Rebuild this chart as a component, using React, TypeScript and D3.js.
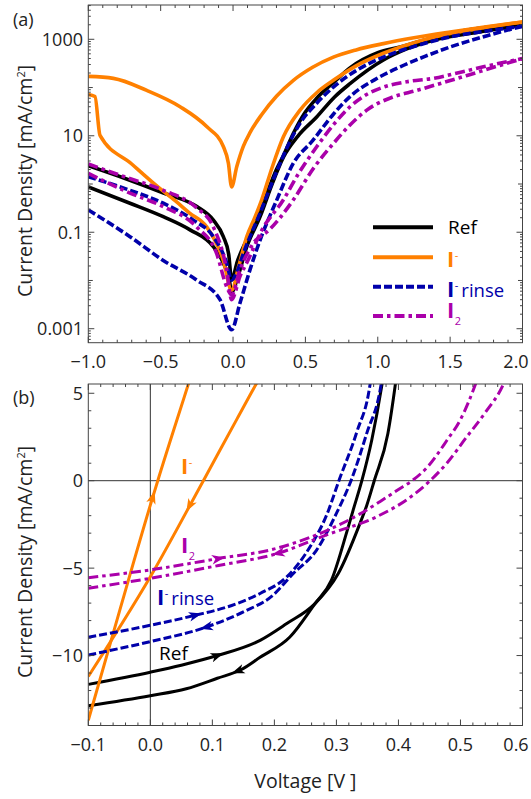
import React from "react";
import * as d3 from "d3";

// ---------- Panel (a): |J| vs V, log scale (mA/cm^2) ----------
const refA_V = [-1.0, -0.75, -0.48, -0.25, -0.136, -0.067, -0.03, -0.01, 0.03, 0.095, 0.187, 0.233, 0.3, 0.35, 0.417, 0.5, 0.578, 0.7, 0.808, 1.0, 1.155, 1.4, 1.617, 2.0];
const refA_J = [2.4, 1.32, 0.65, 0.34, 0.178, 0.081, 0.035, 0.0102, 0.025, 0.071, 0.28, 0.63, 2.0, 4.0, 11.2, 31, 60, 132, 255, 525, 692, 1122, 1549, 1995];
const refB_V = [-1.0, -0.712, -0.482, -0.297, -0.136, -0.067, -0.025, -0.01, 0.026, 0.095, 0.187, 0.27, 0.348, 0.45, 0.578, 0.7, 0.808, 1.039, 1.2, 1.384, 1.7, 2.0];
const refB_J = [0.87, 0.4, 0.21, 0.112, 0.05, 0.023, 0.01, 0.0055, 0.0102, 0.05, 0.21, 1.0, 3.6, 10, 24.5, 63, 120, 372, 631, 955, 1413, 1995];

const iA_V = [-1.0, -0.827, -0.596, -0.366, -0.182, -0.067, -0.032, -0.01, 0.026, 0.071, 0.12, 0.2, 0.3, 0.417, 0.55, 0.693, 0.85, 1.039, 1.25, 1.5, 1.75, 2.0];
const iA_J = [170, 155, 87, 40, 15.5, 6.0, 2.7, 0.87, 2.3, 6.0, 12, 28, 66, 141, 263, 427, 603, 813, 1072, 1413, 1820, 2291];
const iB_V = [-1.0, -0.954, -0.919, -0.7, -0.527, -0.4, -0.3, -0.182, -0.067, -0.01, 0.04, 0.095, 0.15, 0.198, 0.27, 0.348, 0.463, 0.58, 0.693, 0.85, 1.039, 1.25, 1.5, 1.75, 2.0];
const iB_J = [72, 65, 10.2, 2.6, 0.91, 0.45, 0.25, 0.129, 0.026, 0.0063, 0.02, 0.081, 0.2, 0.47, 2.2, 9.5, 34, 79, 141, 282, 513, 851, 1318, 1778, 2291];

const rinseA_V = [-1.0, -0.712, -0.482, -0.274, -0.136, -0.044, -0.01, 0.03, 0.071, 0.187, 0.3, 0.38, 0.463, 0.58, 0.693, 0.85, 1.039, 1.25, 1.5, 1.75, 2.0];
const rinseA_J = [1.41, 0.74, 0.4, 0.178, 0.081, 0.023, 0.0102, 0.0158, 0.036, 0.25, 1.78, 6.3, 18.2, 48, 102, 224, 427, 708, 1122, 1479, 1862];
const rinseB_V = [-1.0, -0.712, -0.482, -0.251, -0.09, -0.01, 0.048, 0.117, 0.187, 0.3, 0.417, 0.55, 0.693, 0.808, 1.0, 1.155, 1.33, 1.5, 1.75, 2.0];
const rinseB_J = [0.29, 0.081, 0.026, 0.0102, 0.004, 0.00095, 0.0034, 0.0166, 0.069, 0.45, 2.7, 7.9, 28, 65, 158, 269, 447, 692, 1175, 1862];

const i2A_V = [-1.0, -0.75, -0.482, -0.251, -0.136, -0.044, -0.01, 0.05, 0.1, 0.2, 0.348, 0.45, 0.578, 0.7, 0.808, 0.92, 1.039, 1.2, 1.384, 1.55, 1.73, 2.0];
const i2A_J = [2.6, 1.41, 0.74, 0.32, 0.129, 0.0166, 0.004, 0.0126, 0.025, 0.112, 0.47, 1.6, 5.9, 17.8, 40, 71, 102, 132, 155, 200, 269, 398];
const i2B_V = [-1.0, -0.712, -0.482, -0.251, -0.113, -0.044, -0.01, 0.048, 0.14, 0.25, 0.417, 0.55, 0.693, 0.8, 0.924, 1.1, 1.27, 1.45, 1.617, 1.8, 2.0];
const i2B_J = [1.66, 0.65, 0.34, 0.129, 0.036, 0.0074, 0.005, 0.0166, 0.059, 0.112, 0.47, 2.0, 6.9, 15.8, 34, 63, 87, 126, 178, 263, 398];

// ---------- Panel (b): J vs V, linear (mA/cm^2) ----------
const bRefF_V = [-0.1, 0, 0.05, 0.108, 0.177, 0.22, 0.2655, 0.303, 0.338, 0.349, 0.361, 0.383, 0.395, 0.398];
const bRefF_J = [-11.65, -10.95, -10.55, -10.0, -9.13, -8.17, -7.03, -5.31, -2.44, -1.4, 0, 2.7, 5.5, 6.3];
const bRefR_V = [-0.1, 0, 0.058, 0.108, 0.147, 0.177, 0.225, 0.2655, 0.292, 0.317, 0.327, 0.341, 0.357, 0.373, 0.377];
const bRefR_J = [-12.87, -12.3, -11.9, -11.3, -10.8, -10.1, -8.94, -7.03, -5.69, -2.9, -1.68, 0, 2.33, 5.4, 6.3];

const bIF_V = [-0.1, -0.05, 0.0, 0.012, 0.062, 0.07];
const bIF_J = [-13.7, -7.5, -1.4, 0, 5.6, 6.5];
const bIR_V = [-0.1, 0, 0.0855, 0.14, 0.1715, 0.18];
const bIR_J = [-11.2, -5.5, 0, 3.55, 5.58, 6.1];

const bRinseF_V = [-0.1, 0, 0.072, 0.13, 0.177, 0.22, 0.2575, 0.285, 0.304, 0.333, 0.354, 0.357];
const bRinseF_J = [-8.95, -8.27, -7.7, -7.15, -6.45, -5.5, -3.78, -1.9, 0, 2.8, 5.45, 6.2];
const bRinseR_V = [-0.1, 0, 0.088, 0.15, 0.196, 0.2305, 0.268, 0.3, 0.3235, 0.349, 0.372, 0.375];
const bRinseR_J = [-9.97, -9.2, -8.4, -7.5, -6.6, -5.31, -3.97, -1.87, 0, 2.72, 5.5, 6.2];

const bI2F_V = [-0.1, 0, 0.11, 0.2, 0.257, 0.3, 0.338, 0.37, 0.4, 0.422, 0.446, 0.478, 0.5, 0.524, 0.53];
const bI2F_J = [-5.55, -5.1, -4.45, -3.9, -3.25, -2.6, -1.9, -1.2, -0.5, 0, 0.75, 2.3, 3.5, 5.5, 6.1];
const bI2R_V = [-0.1, 0, 0.11, 0.206, 0.284, 0.365, 0.419, 0.451, 0.478, 0.51, 0.54, 0.569, 0.575];
const bI2R_J = [-6.15, -5.58, -4.85, -4.15, -3.1, -2.06, -0.95, 0, 1.0, 2.5, 3.9, 5.5, 6.0];

// Sweep-direction arrows: [series key, voltage of arrow tip, direction]
const arrowSpecs: [string, number, number][] = [
  ["bIF", 0.007, 1],
  ["bIR", 0.058, -1],
  ["bI2F", 0.12, 1],
  ["bI2R", 0.196, -1],
  ["bRinseF", 0.083, 1],
  ["bRinseR", 0.08, -1],
  ["bRefF", 0.118, 1],
  ["bRefR", 0.131, -1],
];

// Ticks
const topXTicks = [-1, -0.5, 0, 0.5, 1, 1.5, 2];
const topYLabelTicks = [0.001, 0.1, 10, 1000];
const topYLabelText = ["0.001", "0.1", "10", "1000"];
const botXTicks = [-0.1, 0, 0.1, 0.2, 0.3, 0.4, 0.5, 0.6];
const botYTicks = [5, 0, -5, -10];

const legendNames = ["Ref", "I-", "I- rinse", "I2"];

const C_REF = "#000000";
const C_I = "#FF8000";
const C_RINSE = "#0000AA";
const C_I2 = "#AA00AA";
const FONT = "'Open Sans', 'DejaVu Sans', sans-serif";
const FRAME = "#444";

const fmt = (v: number) => d3.format(".1f")(v).replace("-", "\u2212");
const fmtInt = (v: number) => String(v).replace("-", "\u2212");

function interp(xs: number[], ys: number[], v: number) {
  for (let i = 0; i < xs.length - 1; i++) {
    const a = xs[i], b = xs[i + 1];
    if ((v >= a && v <= b) || (v <= a && v >= b)) {
      const t = (v - a) / (b - a);
      return { y: ys[i] + t * (ys[i + 1] - ys[i]), i };
    }
  }
  return { y: ys[ys.length - 1], i: xs.length - 2 };
}

function ILabel(props: { x: number; y: number; color: string; mark: string; rest?: string }) {
  const { x, y, color, mark, rest } = props;
  const sup = mark === "-";
  return (
    <text x={x} y={y} fill={color}>
      <tspan fontSize={22} fontWeight="bold">I</tspan>
      <tspan fontSize={11} dx={0.5} dy={sup ? -8 : 7}>{mark}</tspan>
      {rest ? (
        <tspan fontSize={18.5} dx={3} dy={sup ? 8 : -7}>{rest}</tspan>
      ) : null}
    </text>
  );
}

export default function App() {
  const W = 531, H = 799;
  const L = 88.3, R = 522.5;
  const tT = 5, tB = 342.7, bT = 384, bB = 725.5;

  const xT = d3.scaleLinear().domain([-1, 2]).range([L, R]);
  const yT = d3.scaleLog().domain([0.000513, 5140]).range([tB, tT]);
  const xB = d3.scaleLinear().domain([-0.1, 0.6]).range([L, R]);
  const yB = d3.scaleLinear().domain([-14, 5.53]).range([bB, bT]);

  const topSeries = [
    { V: refA_V, J: refA_J, c: C_REF, d: "none" },
    { V: refB_V, J: refB_J, c: C_REF, d: "none" },
    { V: iA_V, J: iA_J, c: C_I, d: "none" },
    { V: iB_V, J: iB_J, c: C_I, d: "none" },
    { V: rinseA_V, J: rinseA_J, c: C_RINSE, d: "8,3" },
    { V: rinseB_V, J: rinseB_J, c: C_RINSE, d: "8,3" },
    { V: i2A_V, J: i2A_J, c: C_I2, d: "10,4,3.5,4" },
    { V: i2B_V, J: i2B_J, c: C_I2, d: "10,4,3.5,4" },
  ];
  const botSeries: Record<string, { V: number[]; J: number[]; c: string; d: string }> = {
    bRefF: { V: bRefF_V, J: bRefF_J, c: C_REF, d: "none" },
    bRefR: { V: bRefR_V, J: bRefR_J, c: C_REF, d: "none" },
    bIF: { V: bIF_V, J: bIF_J, c: C_I, d: "none" },
    bIR: { V: bIR_V, J: bIR_J, c: C_I, d: "none" },
    bRinseF: { V: bRinseF_V, J: bRinseF_J, c: C_RINSE, d: "8,3" },
    bRinseR: { V: bRinseR_V, J: bRinseR_J, c: C_RINSE, d: "8,3" },
    bI2F: { V: bI2F_V, J: bI2F_J, c: C_I2, d: "10,4,3.5,4" },
    bI2R: { V: bI2R_V, J: bI2R_J, c: C_I2, d: "10,4,3.5,4" },
  };

  const lineT = (V: number[], J: number[]) =>
    d3.line<number>().x((_, i) => xT(V[i])).y((_, i) => yT(J[i])).curve(d3.curveMonotoneX)(V as any) || "";
  const lineB = (V: number[], J: number[]) =>
    d3.line<number>().x((_, i) => xB(V[i])).y((_, i) => yB(J[i])).curve(d3.curveMonotoneX)(V as any) || "";

  // ticks top panel
  const topXMinor = d3.range(-10, 21).map((k) => k / 10);
  const logTicks: { v: number; len: number }[] = [];
  for (let d = -4; d <= 3; d++) {
    for (let k = 1; k <= 9; k++) {
      const v = k * Math.pow(10, d);
      if (v < 0.000513 || v > 5140) continue;
      const labeled = k === 1 && [-3, -1, 1, 3].includes(d);
      logTicks.push({ v, len: labeled ? 6 : k === 1 ? 4.5 : 2.5 });
    }
  }
  const botXMinor = d3.range(-5, 31).map((k) => k / 50);
  const botYMinor = d3.range(-14, 6).map((k) => k);

  const tickStroke = { stroke: FRAME, strokeWidth: 1 };
  const labelX = (px: number) => Math.min(px, 516);

  const arrows = arrowSpecs.map(([key, v, dir], idx) => {
    const s = botSeries[key];
    const { y, i } = interp(s.V, s.J, v);
    const px = xB(v), py = yB(y);
    const dx = xB(s.V[i + 1]) - xB(s.V[i]);
    const dy = yB(s.J[i + 1]) - yB(s.J[i]);
    let ang = (Math.atan2(dy, dx) * 180) / Math.PI;
    if (dir < 0) ang += 180;
    return (
      <path
        key={idx}
        d="M0,0 L-13,-4.8 L-9.5,0 L-13,4.8 Z"
        fill={s.c}
        transform={`translate(${px},${py}) rotate(${ang})`}
      />
    );
  });

  const legendY = [227.3, 257.3, 286.7, 316];
  const legendStyle = [
    { c: C_REF, d: "none" },
    { c: C_I, d: "none" },
    { c: C_RINSE, d: "8,3" },
    { c: C_I2, d: "10,4,3.5,4" },
  ];

  return (
    <svg
      width={W}
      height={H}
      style={{ position: "absolute", left: 0, top: 0, background: "#fff" }}
      fontFamily={FONT}
    >
      <defs>
        <clipPath id="clipTop">
          <rect x={L} y={tT} width={R - L} height={tB - tT} />
        </clipPath>
        <clipPath id="clipBot">
          <rect x={L} y={bT} width={R - L} height={bB - bT} />
        </clipPath>
      </defs>
      <rect x={0} y={0} width={W} height={H} fill="#fff" />

      {/* ===== Panel (a) ===== */}
      <g clipPath="url(#clipTop)">
        {topSeries.map((s, i) => (
          <path
            key={i}
            d={lineT(s.V, s.J)}
            fill="none"
            stroke={s.c}
            strokeWidth={3.6}
            strokeDasharray={s.d}
            strokeLinejoin="round"
          />
        ))}
      </g>
      <rect x={L} y={tT} width={R - L} height={tB - tT} fill="none" stroke={FRAME} strokeWidth={1} />
      {topXMinor.map((v, i) => {
        const major = Math.abs(v * 2 - Math.round(v * 2)) < 1e-6;
        const len = major ? 6 : 3;
        return (
          <g key={i}>
            <line x1={xT(v)} x2={xT(v)} y1={tB} y2={tB - len} {...tickStroke} />
            <line x1={xT(v)} x2={xT(v)} y1={tT} y2={tT + len} {...tickStroke} />
          </g>
        );
      })}
      {logTicks.map((t, i) => (
        <g key={i}>
          <line x1={L} x2={L + t.len} y1={yT(t.v)} y2={yT(t.v)} {...tickStroke} />
          <line x1={R} x2={R - t.len} y1={yT(t.v)} y2={yT(t.v)} {...tickStroke} />
        </g>
      ))}
      {topXTicks.map((v, i) => (
        <text key={i} x={labelX(xT(v))} y={368} fontSize={18} textAnchor="middle" fill="#222">
          {fmt(v)}
        </text>
      ))}
      {topYLabelTicks.map((v, i) => (
        <text key={i} x={83} y={yT(v)} dy="0.36em" fontSize={18} textAnchor="end" fill="#222">
          {topYLabelText[i]}
        </text>
      ))}
      <text transform={`translate(31.5,181) rotate(-90)`} fontSize={19.5} textAnchor="middle" fill="#222">
        Current Density [mA/cm<tspan fontSize={11} dy={-7}>2</tspan>
        <tspan dy={7}>]</tspan>
      </text>
      <text x={13} y={26} fontSize={18} fill="#222">(a)</text>

      {/* legend */}
      {legendY.map((y, i) => (
        <line
          key={i}
          x1={373}
          x2={433}
          y1={y}
          y2={y}
          stroke={legendStyle[i].c}
          strokeWidth={4}
          strokeDasharray={legendStyle[i].d}
        />
      ))}
      <text x={448} y={234} fontSize={19} fill={C_REF}>{legendNames[0]}</text>
      <ILabel x={447} y={266.7} color={C_I} mark="-" />
      <ILabel x={447} y={296.7} color={C_RINSE} mark="-" rest="rinse" />
      <ILabel x={447} y={318.3} color={C_I2} mark="2" />

      {/* ===== Panel (b) ===== */}
      <line x1={xB(0)} x2={xB(0)} y1={bT} y2={bB} stroke="#333" strokeWidth={1} />
      <line x1={L} x2={R} y1={yB(0)} y2={yB(0)} stroke="#333" strokeWidth={1} />
      <g clipPath="url(#clipBot)">
        {Object.keys(botSeries).map((k) => {
          const s = botSeries[k];
          return (
            <path
              key={k}
              d={lineB(s.V, s.J)}
              fill="none"
              stroke={s.c}
              strokeWidth={3}
              strokeDasharray={s.d}
              strokeLinejoin="round"
            />
          );
        })}
        {arrows}
      </g>
      <rect x={L} y={bT} width={R - L} height={bB - bT} fill="none" stroke={FRAME} strokeWidth={1} />
      {botXMinor.map((v, i) => {
        const major = Math.abs(v * 10 - Math.round(v * 10)) < 1e-6;
        const len = major ? 6 : 3;
        return (
          <g key={i}>
            <line x1={xB(v)} x2={xB(v)} y1={bB} y2={bB - len} {...tickStroke} />
            <line x1={xB(v)} x2={xB(v)} y1={bT} y2={bT + len} {...tickStroke} />
          </g>
        );
      })}
      {botYMinor.map((v, i) => {
        const len = v % 5 === 0 ? 6 : 3;
        return (
          <g key={i}>
            <line x1={L} x2={L + len} y1={yB(v)} y2={yB(v)} {...tickStroke} />
            <line x1={R} x2={R - len} y1={yB(v)} y2={yB(v)} {...tickStroke} />
          </g>
        );
      })}
      {botXTicks.map((v, i) => (
        <text key={i} x={labelX(xB(v))} y={751} fontSize={18} textAnchor="middle" fill="#222">
          {fmt(v)}
        </text>
      ))}
      {botYTicks.map((v, i) => (
        <text key={i} x={83} y={yB(v)} dy="0.36em" fontSize={18} textAnchor="end" fill="#222">
          {fmtInt(v)}
        </text>
      ))}
      <text transform={`translate(31.5,562) rotate(-90)`} fontSize={19.5} textAnchor="middle" fill="#222">
        Current Density [mA/cm<tspan fontSize={11} dy={-7}>2</tspan>
        <tspan dy={7}>]</tspan>
      </text>
      <text x={305.4} y={788} fontSize={19.5} textAnchor="middle" fill="#222">Voltage [V ]</text>
      <text x={13} y={404} fontSize={18} fill="#222">(b)</text>

      {/* in-plot labels */}
      <ILabel x={181} y={474} color={C_I} mark="-" />
      <ILabel x={181} y={553} color={C_I2} mark="2" />
      <ILabel x={157} y={605} color={C_RINSE} mark="-" rest="rinse" />
      <text x={159} y={660} fontSize={19} fill={C_REF}>{legendNames[0]}</text>
    </svg>
  );
}
